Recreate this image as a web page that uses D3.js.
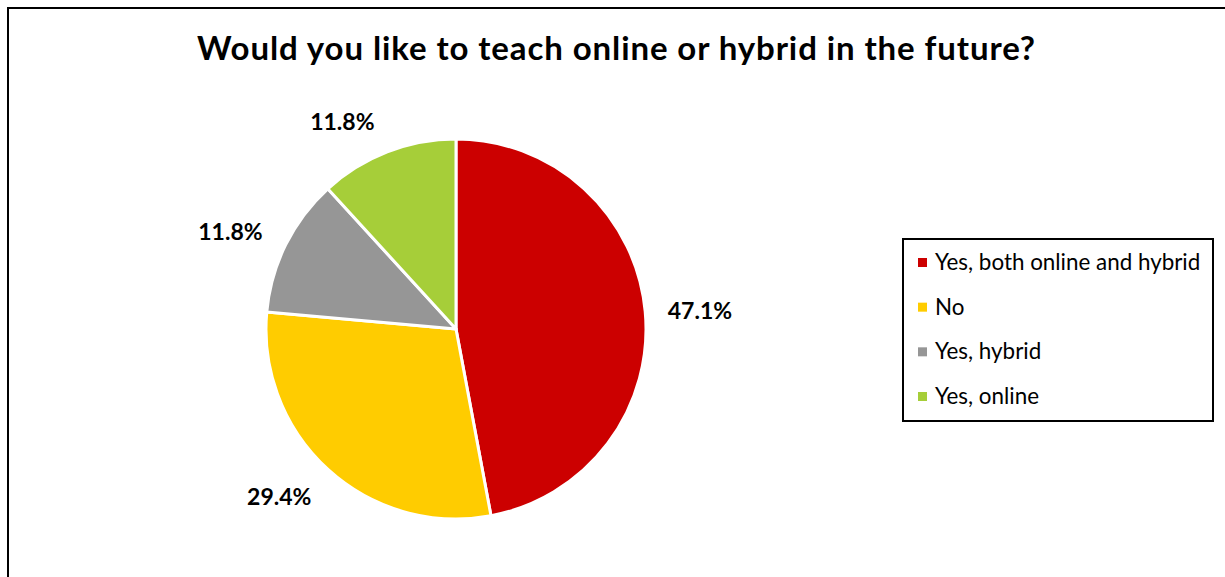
<!DOCTYPE html>
<html>
<head>
<meta charset="utf-8">
<script src="https://cdn.jsdelivr.net/npm/d3@7"></script>
<style>
  html, body { margin: 0; padding: 0; background: #fff; }
  svg { display: block; font-family: Lato, "Open Sans", sans-serif; }
</style>
</head>
<body>
<svg id="chart" width="1225" height="577"></svg>
<script>
// Survey answers and their shares (%)
const categories = ["Yes, both online and hybrid", "No", "Yes, hybrid", "Yes, online"];
const shares = [47.1, 29.4, 11.8, 11.8];
const colors = ["#CC0000", "#FFCC00", "#969696", "#A6CE39"];
const title = "Would you like to teach online or hybrid in the future?";

const svg = d3.select("#chart");
const W = 1225, H = 577;

// outer chart frame (runs off the right and bottom edges)
svg.append("rect")
  .attr("x", 8).attr("y", 8)
  .attr("width", W + 20).attr("height", H + 20)
  .attr("fill", "#fff").attr("stroke", "#000").attr("stroke-width", 2);

svg.append("text")
  .attr("x", 616.5).attr("y", 60)
  .attr("text-anchor", "middle")
  .attr("font-size", 33).attr("font-weight", "bold")
  .attr("letter-spacing", 0.9)
  .attr("fill", "#000")
  .text(title);

const cx = 456, cy = 329, R = 190;
const data = categories.map((c, i) => ({ cat: c, value: shares[i], color: colors[i] }));

const pie = d3.pie().value(d => d.value).sort(null);
const arc = d3.arc().innerRadius(0).outerRadius(R);
const labelArc = d3.arc().innerRadius(R + 55).outerRadius(R + 55);
// small shifts so the labels sit where the best-fit placement puts them
const labelShift = [[0, 4], [-12, -14], [-6, 11], [-25, 21]];

const g = svg.append("g").attr("transform", `translate(${cx},${cy})`);
const arcs = pie(data);

g.selectAll("path.slice")
  .data(arcs)
  .join("path")
  .attr("class", "slice")
  .attr("d", arc)
  .attr("fill", d => d.data.color)
  .attr("stroke", "#fff")
  .attr("stroke-width", 3)
  .attr("stroke-linejoin", "round");

g.selectAll("text.pct")
  .data(arcs)
  .join("text")
  .attr("class", "pct")
  .attr("transform", (d, i) => {
    const [x, y] = labelArc.centroid(d);
    return `translate(${x + labelShift[i][0]},${y + labelShift[i][1]})`;
  })
  .attr("text-anchor", "middle")
  .attr("dy", "0.36em")
  .attr("font-size", 23).attr("font-weight", "bold")
  .attr("fill", "#000")
  .text(d => d.data.value.toFixed(1) + "%");

// legend
const lx = 903, ly = 239, lw = 310, lh = 182;
const leg = svg.append("g");
leg.append("rect")
  .attr("x", lx).attr("y", ly).attr("width", lw).attr("height", lh)
  .attr("fill", "#fff").attr("stroke", "#000").attr("stroke-width", 2);

const rowY = d3.scalePoint().domain(categories).range([262, 396]);
const items = leg.selectAll("g.item").data(data).join("g").attr("class", "item")
  .attr("transform", d => `translate(${lx}, ${rowY(d.cat)})`);
items.append("rect")
  .attr("x", 15).attr("y", -4).attr("width", 9).attr("height", 9)
  .attr("fill", d => d.color);
items.append("text")
  .attr("x", 32).attr("y", 0)
  .attr("dy", "0.35em")
  .attr("font-size", 22.4)
  .attr("fill", "#000")
  .text(d => d.cat);
</script>
</body>
</html>
